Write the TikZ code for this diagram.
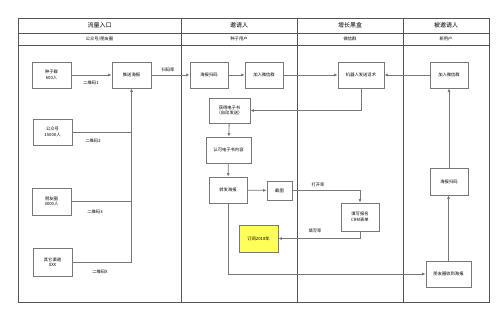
\documentclass[tikz,border=0pt]{standalone}
\usepackage{fontspec}
\setmainfont{Noto Sans CJK SC}
\usetikzlibrary{positioning, arrows.meta}
\definecolor{FrameGray}{RGB}{85,85,85}
\definecolor{LineGray}{RGB}{120,120,120}
\definecolor{NoteYellow}{RGB}{255,255,90}

\begin{document}
\begin{tikzpicture}[x=1pt, y=-1pt,
    box/.style={draw=LineGray, line width=0.7pt, fill=white, align=center, inner sep=1pt,
      font=\fontsize{4.3}{5.6}\selectfont, minimum width=38pt, minimum height=26pt},
    flow/.style={draw=LineGray, line width=0.8pt, -{Latex[length=3.5pt,width=3pt]}},
    lane/.style={draw=LineGray, line width=0.8pt},
    tag/.style={font=\fontsize{4.3}{5}\selectfont, inner sep=1pt},
    head/.style={font=\fontsize{6}{7}\selectfont, inner sep=0pt},
    subhead/.style={font=\fontsize{4.3}{5}\selectfont, inner sep=0pt}]
    \useasboundingbox (0,0) rectangle (500,314);

    % Frame and lanes
    \draw[FrameGray, line width=0.8pt] (18,18) rectangle (489,302);
    \draw[FrameGray, line width=0.6pt] (18,33) -- (489,33);
    \draw[FrameGray, line width=0.6pt] (18,45) -- (489,45);
    \foreach \lx in {181, 297, 403}
      \draw[FrameGray, line width=0.8pt] (\lx,18) -- (\lx,302);

    % Headers
    \node[head] (h1) at (99.5,25.5) {流量入口};
    \node[head] (h2) at (239,25.5) {邀请人};
    \node[head] (h3) at (350,25.5) {增长黑盒};
    \node[head] (h4) at (446,25.5) {被邀请人};
    \node[subhead] (s1) at (99.5,39) {公众号/朋友圈};
    \node[subhead] (s2) at (239,39) {种子用户};
    \node[subhead] (s3) at (350,39) {微信群};
    \node[subhead] (s4) at (446,39) {新用户};

    % Traffic sources
    \node[box, minimum width=39pt] (seed) at (51.5,75) {种子群\\600人};
    \node[box, minimum width=39pt] (push) at (131.5,75) {推送海报};
    \node[box, minimum width=39pt] (gzh) at (52.5,132) {公众号\\15000人};
    \node[box, minimum width=39pt, minimum height=27pt] (pyq) at (51.5,201.5) {朋友圈\\3000人};
    \node[box, minimum width=39pt, minimum height=28pt] (other) at (52.5,262) {其它渠道\\XXX};

    \draw[flow] (seed) -- (push);
    \draw[lane] (gzh.east) -- (gzh.east -| push.south);
    \draw[lane] (pyq.east) -- (pyq.east -| push.south);
    \draw[flow] (other.east) -| (push.south);
    \node[tag] (qr1) at (91,83) {二维码1};
    \node[tag] (qr2) at (93,141) {二维码2};
    \node[tag] (qr3) at (95,212) {二维码3};
    \node[tag] (qrx) at (100,272) {二维码X};

    % Inviter
    \node[box] (scan) at (209,75) {海报扫码};
    \node[box] (join) at (264,75) {加入微信群};
    \node[box, minimum width=41pt, minimum height=25pt] (ebook) at (229.5,110.5) {获得电子书\\（自动发送）};
    \node[box, minimum width=45pt] (agree) at (228.5,150) {认可电子书内容};
    \node[box] (share) at (228,190) {转发海报};
    \node[box, minimum width=25pt, minimum height=19pt] (shot) at (279.5,190.5) {截图};
    \node[box, fill=NoteYellow, minimum width=39pt, minimum height=27pt] (order) at (258.5,238.5) {订阅2018年};

    % Growth box
    \node[box, minimum width=46pt] (robot) at (361,75) {机器人发送话术};
    \node[box, minimum height=28pt] (form) at (360,217) {填写报名\\CRM表单};

    % Invitee
    \node[box] (njoin) at (449,75) {加入微信群};
    \node[box, minimum height=27pt] (nscan) at (449,181.5) {海报扫码};
    \node[box, minimum width=45pt] (moment) at (448.5,274) {朋友圈收到海报};

    % Flow
    \draw[flow] (push) -- (scan);
    \node[tag] (rate) at (168,70) {扫码率};
    \draw[flow] (scan) -- (join);
    \draw[flow] (join) -- (robot);
    \draw[flow] (njoin) -- (robot);
    \draw[flow] (robot.south) |- (ebook.east);
    \draw[flow] (ebook) -- (agree);
    \draw[flow] (agree) -- (share);
    \draw[flow] (share) -- (shot);
    \draw[flow] (shot.east) -| (form.north);
    \node[tag] (open) at (318,185) {打开率};
    \draw[flow] (form.south) |- (order.east);
    \node[tag] (fill) at (315,231) {填写率};
    \draw[flow] (share.south) |- (moment.west);
    \draw[flow] (moment.north) -- (moment.north |- nscan.south);
    \draw[flow] (nscan) -- (njoin);
\end{tikzpicture}
\end{document}
